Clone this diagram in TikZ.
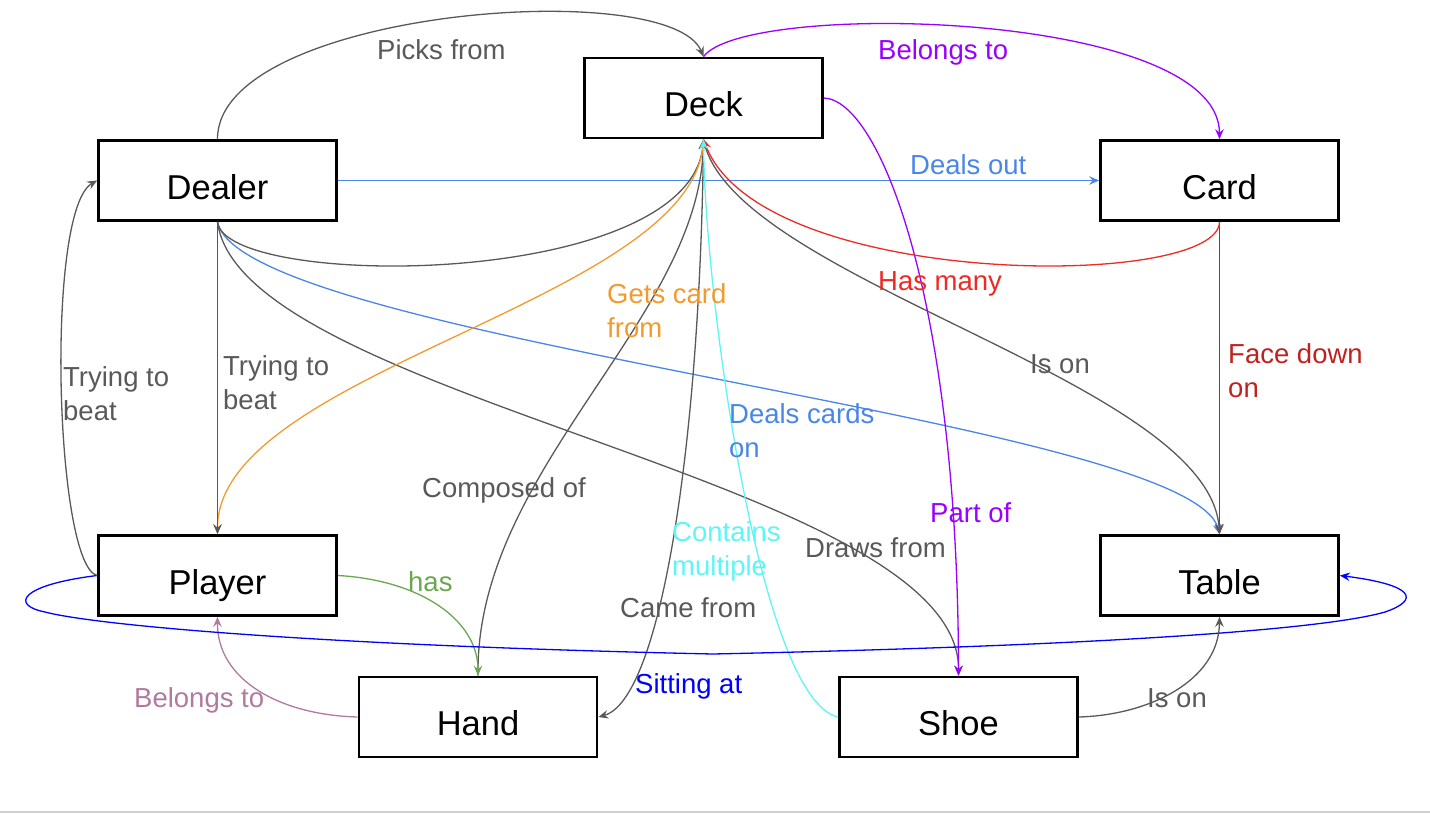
\documentclass[tikz,border=0pt]{standalone}
\usepackage{fontspec}
\setmainfont{Liberation Sans}
\usetikzlibrary{arrows.meta}
\definecolor{cgray}{HTML}{595959}
\definecolor{cpurple}{HTML}{9900FF}
\definecolor{ccorn}{HTML}{4A86E8}
\definecolor{cred}{HTML}{EE2A24}
\definecolor{cdred}{HTML}{BF2121}
\definecolor{corange}{HTML}{F39A2E}
\definecolor{ccyan}{HTML}{5FF5F5}
\definecolor{cgreen}{HTML}{6AA84F}
\definecolor{cmauve}{HTML}{B07A9F}
\definecolor{cblue}{HTML}{0000FF}
\definecolor{crule}{HTML}{D0D0D0}
\begin{document}
\begin{tikzpicture}[x=1pt,y=-1pt,
  entity/.style={draw=black,line width=2.7pt,minimum width=238pt,minimum height=80pt,
    inner sep=0pt,text height=37pt,text depth=0pt,font=\fontsize{34.5}{40}\selectfont},
  lbl/.style={anchor=base west,inner sep=0pt,font=\fontsize{27.5}{34}\selectfont},
  conn/.style={line width=1.3pt},
  arr/.style={-{Stealth[length=10pt,width=8.5pt,inset=3.5pt]}}
]
\useasboundingbox (0,0) rectangle (1430,814);
\draw[crule,line width=1.5pt] (0,812) -- (1430,812);

\node[entity] (deck)   at (703.5,98)   {Deck};
\node[entity] (dealer) at (217.5,180.5) {Dealer};
\node[entity] (card)   at (1219.5,180.5) {Card};
\node[entity] (player) at (217.5,575.5) {Player};
\node[entity] (table)  at (1219.5,575.5) {Table};
\node[entity] (hand)   at (478,717)    {Hand};
\node[entity] (shoe)   at (958.5,717)  {Shoe};

% top arcs and straight
\draw[conn,cgray,arr] (dealer.north) .. controls (217,10) and (670,-25) .. (deck.north);
\draw[conn,cpurple,arr] (deck.north) .. controls (745,0) and (1219,10) .. (card.north);
\draw[conn,ccorn,arr] (dealer.east) -- (card.west);

% to table
\draw[conn,ccorn,arr] (dealer.south) .. controls (240,340) and (1190,420) .. (table.north);
\draw[conn,cdred,arr] (card.south) -- (table.north);
\draw[conn,cgray,arr] (deck.south) .. controls (730,280) and (1210,380) .. (table.north);

% to shoe
\draw[conn,cgray,arr] (dealer.south) .. controls (240,400) and (960,480) .. (shoe.north);
\draw[conn,cpurple,arr] (deck.east) .. controls (880,100) and (958,300) .. (shoe.north);

% deck bottom bundle
\draw[conn,cgray,arr] (dealer.south) .. controls (225,290) and (690,290) .. (deck.south);
\draw[conn,cred,arr] (card.south) .. controls (1219,290) and (760,290) .. (deck.south);
\draw[conn,cgray,arr] (hand.north) .. controls (475,470) and (700,320) .. (deck.south);
\draw[conn,cgray,arr] (deck.south) .. controls (700,450) and (660,700) .. (hand.east);
\draw[conn,corange,arr] (deck.south) .. controls (700,300) and (217,370) .. (player.north);
\draw[conn,cgray,arr] (dealer.south) -- (player.north);
\draw[conn,ccyan,arr] (shoe.west) .. controls (760,700) and (705,300) .. (deck.south);

% lower connectors
\draw[conn,cgreen,arr] (player.east) .. controls (420,580) and (478,620) .. (hand.north);
\draw[conn,cmauve,arr] (hand.west) .. controls (280,715) and (217,680) .. (player.south);
\draw[conn,cblue,arr] (player.west) .. controls (20,585) and (10,605) .. (45,612)
   .. controls (90,624) and (300,645) .. (713,654)
   .. controls (1130,645) and (1330,628) .. (1385,612)
   .. controls (1420,600) and (1415,585) .. (table.east);
\draw[conn,cgray,arr] (shoe.east) .. controls (1150,715) and (1219,680) .. (table.south);
\draw[conn,cgray,arr] (player.west) .. controls (55,565) and (45,210) .. (dealer.west);

% labels
\node[lbl,cgray] (l1) at (377,59) {Picks from};
\node[lbl,cpurple] (l2) at (878,59) {Belongs to};
\node[lbl,ccorn] (l3) at (910,174) {Deals out};
\node[lbl,cred] (l4) at (878,290) {Has many};
\node[lbl,corange] (l5) at (607,303) {\begin{tabular}[t]{@{}l@{}}Gets card\\from\end{tabular}};
\node[lbl,ccorn] (l6) at (729,423) {\begin{tabular}[t]{@{}l@{}}Deals cards\\on\end{tabular}};
\node[lbl,cgray] (l7) at (422,497) {Composed of};
\node[lbl,ccyan] (l8) at (672,541) {\begin{tabular}[t]{@{}l@{}}Contains\\multiple\end{tabular}};
\node[lbl,cgray] (l9) at (805,557) {Draws from};
\node[lbl,cpurple] (l10) at (930,522) {Part of};
\node[lbl,cgray] (l11) at (620,617) {Came from};
\node[lbl,cblue] (l12) at (635,693) {Sitting at};
\node[lbl,cgray] (l13) at (1030,373) {Is on};
\node[lbl,cdred] (l14) at (1228,363) {\begin{tabular}[t]{@{}l@{}}Face down\\on\end{tabular}};
\node[lbl,cgray] (l15) at (1147,707) {Is on};
\node[lbl,cgray] (l16) at (63,386) {\begin{tabular}[t]{@{}l@{}}Trying to\\beat\end{tabular}};
\node[lbl,cgray] (l17) at (223,375) {\begin{tabular}[t]{@{}l@{}}Trying to\\beat\end{tabular}};
\node[lbl,cgreen] (l18) at (408,591) {has};
\node[lbl,cmauve] (l19) at (134,707) {Belongs to};
\end{tikzpicture}
\end{document}
